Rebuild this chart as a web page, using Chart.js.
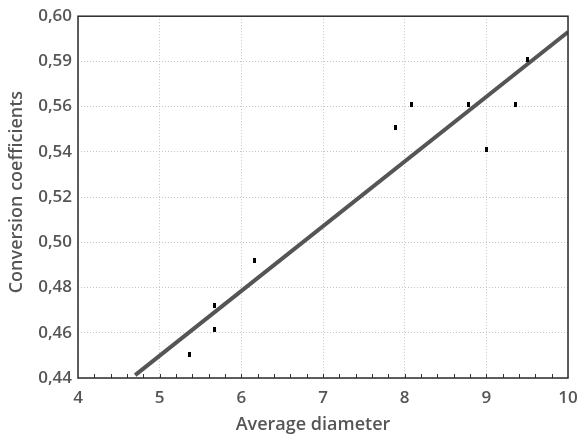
<!DOCTYPE html>
<html>
<head>
<meta charset="utf-8">
<script src="https://cdn.jsdelivr.net/npm/chart.js@4/dist/chart.umd.min.js"></script>
<style>
html,body{margin:0;padding:0;background:#fff;}
#wrap{width:588px;height:437px;}
</style>
</head>
<body>
<div id="wrap"><canvas id="c" width="588" height="437"></canvas></div>
<script>
// Data (y in the axis' linear units)
const diameters = [5.36, 5.67, 5.67, 6.16, 7.89, 8.08, 8.78, 9.00, 9.36, 9.50];
const coefficients = [0.4505, 0.4615, 0.472, 0.492, 0.551, 0.561, 0.561, 0.541, 0.561, 0.581];
const trendX = [4.70, 10.0];
const trendY = [0.4413, 0.593];
const xTickLabels = ['4', '5', '6', '7', '8', '9', '10'];
const yTickLabels = ['0,44', '0,46', '0,48', '0,50', '0,52', '0,54', '0,56', '0,59', '0,60'];
const xTitle = 'Average diameter';
const yTitle = 'Conversion coefficients';

const fontFam = '"Open Sans", "Noto Sans", sans-serif';

const marker = document.createElement('canvas');
marker.width = 3; marker.height = 5;
const mctx = marker.getContext('2d');
mctx.fillStyle = '#000';
mctx.fillRect(0, 0, 3, 5);

const frame = {
  id: 'frame',
  afterDraw(chart) {
    const {ctx, chartArea: a, scales} = chart;
    ctx.save();
    // minor ticks on x axis (inside, every 0.2)
    ctx.strokeStyle = '#333';
    ctx.lineWidth = 1;
    const xs = scales.x;
    for (let i = 1; i < 30; i++) {
      const v = 4 + i * 0.2;
      const px = Math.round(xs.getPixelForValue(v)) + 0.5;
      ctx.beginPath();
      ctx.moveTo(px, a.bottom);
      ctx.lineTo(px, a.bottom - 4);
      ctx.stroke();
    }
    ctx.strokeStyle = '#2a2a2a';
    ctx.lineWidth = 1.5;
    ctx.strokeRect(a.left, a.top, a.right - a.left, a.bottom - a.top);
    // axis titles
    ctx.fillStyle = '#555';
    ctx.font = '600 18px ' + fontFam;
    ctx.textAlign = 'center';
    ctx.textBaseline = 'middle';
    ctx.fillText(xTitle, (a.left + a.right) / 2 - 10, chart.height - 12);
    ctx.translate(17, (a.top + a.bottom) / 2 - 5);
    ctx.rotate(-Math.PI / 2);
    ctx.fillText(yTitle, 0, 0);
    ctx.restore();
  }
};

new Chart(document.getElementById('c'), {
  data: {
    datasets: [
      {
        type: 'scatter',
        data: diameters.map((x, i) => ({x, y: coefficients[i]})),
        pointStyle: marker,
        pointRadius: 3,
        order: 1
      },
      {
        type: 'line',
        data: trendX.map((x, i) => ({x, y: trendY[i]})),
        borderColor: '#555555',
        borderWidth: 4,
        pointRadius: 0,
        fill: false,
        order: 2
      }
    ]
  },
  options: {
    responsive: false,
    animation: false,
    devicePixelRatio: 1,
    layout: {padding: {top: 16, right: 20, left: 0, bottom: 0}},
    plugins: {legend: {display: false}, tooltip: {enabled: false}},
    scales: {
      x: {
        type: 'linear',
        min: 4, max: 10,
        afterFit(s) { s.height = 59; },
        ticks: {
          stepSize: 1,
          padding: 10,
          color: '#555',
          font: {family: fontFam, size: 17, weight: '600'},
          callback: (v, i) => xTickLabels[i]
        },
        grid: {color: '#c4c4c4', lineWidth: 1, drawTicks: false},
        border: {display: false, dash: [1, 2]},
        title: {display: false}
      },
      y: {
        type: 'linear',
        min: 0.44, max: 0.60,
        afterFit(s) { s.width = 78; },
        ticks: {
          stepSize: 0.02,
          padding: 6,
          color: '#555',
          font: {family: fontFam, size: 17, weight: '600'},
          callback: (v, i) => yTickLabels[i]
        },
        grid: {color: '#c4c4c4', lineWidth: 1, drawTicks: false},
        border: {display: false, dash: [1, 2]},
        title: {display: false}
      }
    }
  },
  plugins: [frame]
});
</script>
</body>
</html>
